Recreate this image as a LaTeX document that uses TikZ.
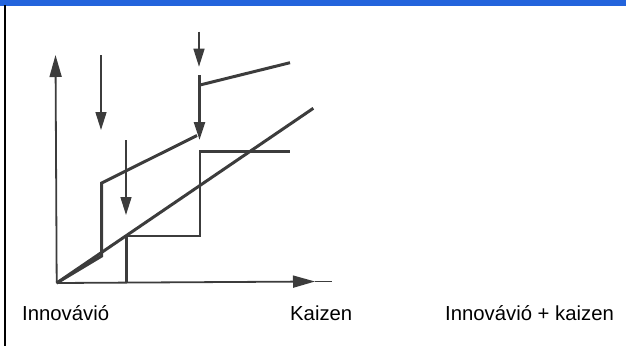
\documentclass[tikz,border=0pt]{standalone}
\usepackage{fontspec}
\setmainfont{Liberation Sans}
\usetikzlibrary{arrows.meta}
\definecolor{barblue}{RGB}{35,100,220}
\definecolor{ink}{RGB}{60,60,60}
\tikzset{
  thickline/.style={draw=ink,line width=3pt,line join=miter},
  kaizenline/.style={draw=ink,line width=2.6pt,line join=miter},
  axisline/.style={draw=ink,line width=1.8pt,-{Triangle[length=22pt,width=12pt]}},
  droparrow/.style={draw=ink,line width=1.5pt,-{Triangle[length=18pt,width=11pt]}},
  label/.style={font=\fontsize{20.3pt}{24pt}\selectfont,anchor=base west,inner sep=0pt}
}
\begin{document}
\begin{tikzpicture}[x=1pt,y=-1pt]
\useasboundingbox (0,0) rectangle (626,346);
% frame
\fill[barblue] (0,0) rectangle (626,5.5);
\draw[black,line width=1.6pt] (4.7,5) -- (4.7,346);
% coordinates
\coordinate (O) at (56.7,283);
\coordinate (ytip) at (55.5,55);
\coordinate (xtip) at (315,281.5);
\coordinate (xend) at (332,281.5);
\coordinate (diagend) at (313.3,108.3);
% innovation
\coordinate (i1) at (101.7,256);
\coordinate (i2) at (101.7,183);
\coordinate (i3) at (197,135.5);
\coordinate (u1) at (200,85);
\coordinate (u2) at (290,62.7);
\coordinate (v0) at (199.5,75);
\coordinate (v1) at (199.5,140);
% kaizen
\coordinate (k0) at (126.5,283);
\coordinate (k1) at (126.5,236);
\coordinate (k2) at (200,236);
\coordinate (k3) at (200,151.7);
\coordinate (k4) at (290,151.7);
% drop arrows
\coordinate (a1s) at (101,55);
\coordinate (a1e) at (101,130);
\coordinate (a2s) at (126,140);
\coordinate (a2e) at (126,215);
\coordinate (a3s) at (199,31.7);
\coordinate (a3e) at (199,66.7);
% axes
\draw[axisline] (O) -- (ytip);
\draw[axisline] (O) -- (xtip);
\draw[draw=ink,line width=1.2pt] (xtip) -- (xend);
% diagonal
\draw[thickline] (O) -- (diagend);
% innovation line
\draw[thickline] (O) -- (i1) -- (i2) -- (i3);
\draw[thickline] (u1) -- (u2);
\draw[draw=ink,line width=2.6pt,-{Triangle[length=18pt,width=11pt]}] (v0) -- (v1);
% kaizen line
\draw[kaizenline] (k0) -- (k1) -- (k2) -- (k3) -- (k4);
% drop arrows
\draw[droparrow] (a1s) -- (a1e);
\draw[droparrow] (a2s) -- (a2e);
\draw[droparrow] (a3s) -- (a3e);
% labels
\node[label] (innov) at (22,320.5) {Innovávió};
\node[label] (kaizen) at (290,320.5) {Kaizen};
\node[label] (both) at (445,320.5) {Innovávió + kaizen};
\end{tikzpicture}
\end{document}
